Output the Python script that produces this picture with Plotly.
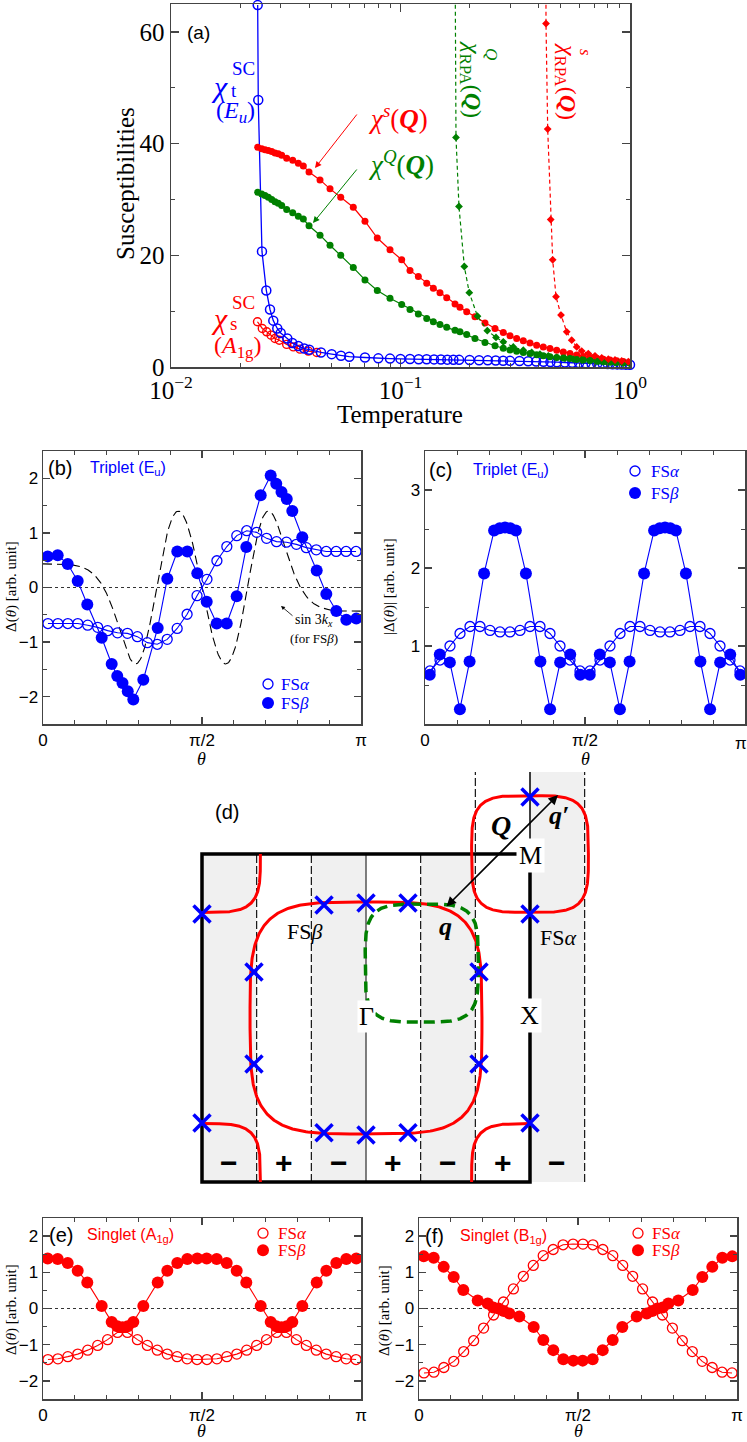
import numpy as np
import plotly.graph_objects as go

W, H = 747, 1442
SERIF = "Liberation Serif"
SANS = "Liberation Sans"
BLUE = "#0000ff"
RED = "#ff0000"
GREEN = "#008000"
FRAME = "#444444"


def PX(x):
    return x / W


def PY(y):
    return 1 - y / H


# ---------------- Panel (a) data ----------------
T_chi_t = [0.02386, 0.0240, 0.02491, 0.02602, 0.0270, 0.02791, 0.02905, 0.03006, 0.03212, 0.03378,
           0.03587, 0.03809, 0.04006, 0.04504, 0.05014, 0.05504, 0.05983, 0.07002, 0.08003, 0.09,
           0.10, 0.11, 0.12, 0.13, 0.14, 0.15, 0.16, 0.17, 0.18, 0.20,
           0.22, 0.24, 0.26, 0.28, 0.30, 0.33, 0.36, 0.39, 0.42, 0.45,
           0.48, 0.52, 0.56, 0.60, 0.64, 0.68, 0.72, 0.76, 0.80, 0.84,
           0.88, 0.92, 0.96, 1.0]
chi_t_sc = [64.8, 47.8, 20.7, 13.7, 10.3, 8.3, 6.9, 6.1, 5.1, 4.3,
            3.75, 3.3, 3.1, 2.6, 2.3, 2.0, 1.85, 1.7, 1.55, 1.5,
            1.45, 1.42, 1.4, 1.38, 1.36, 1.34, 1.32, 1.3, 1.28, 1.25,
            1.22, 1.19, 1.16, 1.13, 1.1, 1.06, 1.02, 0.98, 0.94, 0.9,
            0.86, 0.81, 0.76, 0.72, 0.68, 0.64, 0.6, 0.56, 0.53, 0.5,
            0.47, 0.44, 0.42, 0.4]

T_chi_s_sc = [0.02381, 0.02499, 0.02612, 0.02729, 0.02838, 0.02964, 0.03192, 0.03413, 0.03651, 0.03967, 0.04317]
chi_s_sc = [8.1, 6.9, 6.3, 5.7, 5.1, 4.8, 4.05, 3.6, 3.2, 2.85, 2.6]

T_chi_q = [0.02386, 0.02484, 0.02568, 0.02655, 0.02747, 0.02839, 0.02934, 0.03036, 0.03192, 0.03391,
           0.03587, 0.03772, 0.03994, 0.0446, 0.0493, 0.0549, 0.06228, 0.07002, 0.07923, 0.09,
           0.1012, 0.11, 0.1196, 0.1301, 0.139, 0.1486, 0.159, 0.1728, 0.1816, 0.1943,
           0.2111, 0.2334, 0.2581, 0.2805, 0.30, 0.3208, 0.3428, 0.3666, 0.3921, 0.419,
           0.4481, 0.4793, 0.5121, 0.5476, 0.5858, 0.6259, 0.6694, 0.716, 0.7651, 0.8183,
           0.8753, 0.9351, 1.0]
chi_spin_Q = [39.35, 39.1, 38.9, 38.75, 38.6, 38.3, 38.2, 37.9, 37.4, 37.0,
              36.5, 36.0, 34.9, 33.5, 31.9, 30.4, 28.6, 26.1, 23.1, 21.0,
              19.2, 17.3, 16.2, 15.0, 14.1, 13.3, 12.4, 11.3, 10.7, 9.9,
              9.0, 7.9, 6.9, 6.2, 5.6, 5.1, 4.7, 4.3, 3.9, 3.6,
              3.3, 3.0, 2.7, 2.4, 2.15, 1.9, 1.7, 1.55, 1.4, 1.25,
              1.1, 0.97, 0.85]
chi_quad_Q = [31.3, 31.0, 30.7, 30.4, 30.0, 29.6, 29.3, 28.9, 28.2, 27.6,
              27.0, 26.5, 25.3, 23.6, 21.8, 20.0, 17.8, 15.6, 13.7, 12.3,
              11.2, 10.3, 9.5, 8.7, 8.1, 7.6, 7.1, 6.6, 6.3, 5.8,
              5.1, 4.4, 3.8, 3.35, 3.05, 2.8, 2.6, 2.4, 2.2, 2.0,
              1.85, 1.7, 1.6, 1.5, 1.35, 1.25, 1.15, 1.05, 0.95, 0.87,
              0.8, 0.72, 0.65]

T_rpa_s = [0.4285, 0.4305, 0.4379, 0.4513, 0.4604, 0.4760, 0.5005, 0.5300, 0.5572, 0.5858,
           0.6160, 0.6581, 0.7039, 0.7529, 0.8043, 0.8602, 0.9200, 0.9831]
chi_rpa_s = [110, 61.5, 42.6, 26.4, 19.2, 12.6, 9.3, 6.3, 4.8, 3.6,
             2.85, 2.4, 2.0, 1.65, 1.4, 1.25, 1.07, 0.95]

T_rpa_q = [0.1712, 0.1745, 0.1798, 0.1897, 0.1994, 0.2165, 0.2389, 0.2607, 0.2805, 0.3101,
           0.3428, 0.3729, 0.4053, 0.4405, 0.4793, 0.5210, 0.5662, 0.6160, 0.6694, 0.7277,
           0.7914, 0.8602, 0.9351, 1.0]
chi_rpa_q = [110, 41.1, 28.75, 18.0, 13.3, 9.1, 6.5, 5.3, 4.5, 3.6,
             3.0, 2.6, 2.3, 2.0, 1.7, 1.55, 1.4, 1.25, 1.13, 1.0,
             0.9, 0.77, 0.7, 0.65]

# ---------------- Panels (b),(c),(e),(f) data (theta in units of pi) ----------------
theta_alpha = [0.0156, 0.0469, 0.0781, 0.1094, 0.1406, 0.1719, 0.2031, 0.2344, 0.2656, 0.2969,
               0.3281, 0.3594, 0.3906, 0.4219, 0.4531, 0.4844, 0.5156, 0.5469, 0.5781, 0.6094,
               0.6406, 0.6719, 0.7031, 0.7344, 0.7656, 0.7969, 0.8281, 0.8594, 0.8906, 0.9219,
               0.9531, 0.9844]
theta_beta = [0.0148, 0.0462, 0.0777, 0.1091, 0.1393, 0.1846, 0.2160, 0.2335, 0.2500, 0.2665,
              0.2840, 0.3154, 0.3607, 0.3909, 0.4223, 0.4538, 0.4852, 0.5148, 0.5462, 0.5777,
              0.6091, 0.6393, 0.6846, 0.7160, 0.7335, 0.7500, 0.7665, 0.7840, 0.8154, 0.8607,
              0.8909, 0.9223, 0.9538, 0.9852]

b_alpha = [-0.66, -0.66, -0.66, -0.66, -0.69, -0.73, -0.79, -0.83, -0.84, -0.90,
           -1.01, -1.04, -0.95, -0.75, -0.49, -0.15, 0.15, 0.49, 0.75, 0.95,
           1.04, 1.01, 0.90, 0.84, 0.83, 0.79, 0.73, 0.69, 0.66, 0.66,
           0.66, 0.66]
b_beta = [0.57, 0.59, 0.43, 0.12, -0.31, -0.92, -1.40, -1.62, -1.75, -1.90,
          -2.05, -1.69, -0.74, 0.16, 0.66, 0.66, 0.26, -0.26, -0.66, -0.66,
          -0.16, 0.74, 1.69, 2.05, 1.90, 1.75, 1.62, 1.40, 0.92, 0.31,
          -0.12, -0.43, -0.59, -0.57]

c_alpha = [0.68, 0.82, 1.00, 1.16, 1.25, 1.25, 1.20, 1.18, 1.18, 1.20,
           1.25, 1.25, 1.16, 1.00, 0.82, 0.68, 0.68, 0.82, 1.00, 1.16,
           1.25, 1.25, 1.20, 1.18, 1.18, 1.20, 1.25, 1.25, 1.16, 1.00,
           0.82, 0.68]
c_beta = [0.63, 0.89, 0.79, 0.19, 0.80, 1.93, 2.48, 2.51, 2.52, 2.51,
          2.48, 1.93, 0.80, 0.19, 0.79, 0.89, 0.63, 0.63, 0.89, 0.79,
          0.19, 0.80, 1.93, 2.48, 2.51, 2.52, 2.51, 2.48, 1.93, 0.80,
          0.19, 0.79, 0.89, 0.63]

e_alpha = [-1.41, -1.39, -1.33, -1.26, -1.15, -1.02, -0.86, -0.66, -0.66, -0.86,
           -1.02, -1.15, -1.26, -1.33, -1.39, -1.41, -1.41, -1.39, -1.33, -1.26,
           -1.15, -1.02, -0.86, -0.66, -0.66, -0.86, -1.02, -1.15, -1.26, -1.33,
           -1.39, -1.41]
e_beta = [1.38, 1.37, 1.26, 1.04, 0.72, 0.07, -0.37, -0.49, -0.52, -0.49,
          -0.37, 0.07, 0.72, 1.04, 1.26, 1.37, 1.38, 1.38, 1.37, 1.26,
          1.04, 0.72, 0.07, -0.37, -0.49, -0.52, -0.49, -0.37, 0.07, 0.72,
          1.04, 1.26, 1.37, 1.38]

f_alpha = [-1.78, -1.76, -1.63, -1.46, -1.19, -0.89, -0.54, -0.18, 0.18, 0.54,
           0.89, 1.19, 1.46, 1.63, 1.76, 1.78, 1.78, 1.76, 1.63, 1.46,
           1.19, 0.89, 0.54, 0.18, -0.18, -0.54, -0.89, -1.19, -1.46, -1.63,
           -1.76, -1.78]
f_beta = [1.44, 1.40, 1.15, 0.87, 0.51, 0.22, 0.14, 0.03, 0.0, -0.07,
          -0.14, -0.22, -0.51, -0.87, -1.15, -1.40, -1.44, -1.44, -1.40, -1.15,
          -0.87, -0.51, -0.22, -0.14, -0.07, 0.0, 0.03, 0.14, 0.22, 0.51,
          0.87, 1.15, 1.40, 1.44]

# sin 3kx reference curve for FS beta (amplitude, FS size in units of pi, shape exponent)
SIN_AMP = 1.4
FSB_KF = 0.70
FSB_N = 4.0

# ---------------- Panel (d) data (k in units of pi) ----------------
FSA_R = 0.356
FSA_N = 4.0
FSB_R = 0.707
GREEN_C = (0.34, 0.335)
GREEN_R = (0.345, 0.36)
node_kx = [-1.0, -0.256, 0.0, 0.256, 1.0, 1.0, -0.683, 0.689, -0.683, 0.689, -1.0, -0.256, 0.0, 0.256, 1.0]
node_ky = [0.634, 0.689, 0.701, 0.701, 1.348, 0.634, 0.28, 0.28, -0.28, -0.28, -0.64, -0.70, -0.713, -0.70, -0.64]
sign_kx = [-5 / 6, -1 / 2, -1 / 6, 1 / 6, 1 / 2, 5 / 6, 7 / 6]
sign_txt = ["−", "+", "−", "+", "−", "+", "−"]


def superellipse(cx, cy, rx, ry, n, t0, t1, num=400):
    t = np.linspace(t0, t1, num)
    c, s = np.cos(t), np.sin(t)
    x = cx + rx * np.sign(c) * np.abs(c) ** (2 / n)
    y = cy + ry * np.sign(s) * np.abs(s) ** (2 / n)
    return x, y


fig = go.Figure()

# ---- (a) ----
fig.add_trace(go.Scatter(x=T_chi_s_sc, y=chi_s_sc, mode="lines+markers", xaxis="x", yaxis="y",
                         line=dict(color=RED, width=1.2),
                         marker=dict(symbol="circle-open", size=8, color=RED, line=dict(width=1.4))))
fig.add_trace(go.Scatter(x=T_chi_t, y=chi_t_sc, mode="lines+markers", xaxis="x", yaxis="y", cliponaxis=False,
                         line=dict(color=BLUE, width=1.3),
                         marker=dict(symbol="circle-open", size=9, color=BLUE, line=dict(width=1.5))))
fig.add_trace(go.Scatter(x=T_chi_q, y=chi_spin_Q, mode="lines+markers", xaxis="x", yaxis="y",
                         line=dict(color=RED, width=1.2), marker=dict(symbol="circle", size=7, color=RED)))
fig.add_trace(go.Scatter(x=T_chi_q, y=chi_quad_Q, mode="lines+markers", xaxis="x", yaxis="y",
                         line=dict(color=GREEN, width=1.2), marker=dict(symbol="circle", size=7, color=GREEN)))
fig.add_trace(go.Scatter(x=T_rpa_q, y=chi_rpa_q, mode="lines+markers", xaxis="x", yaxis="y",
                         line=dict(color=GREEN, width=1.2, dash="4px,3px"),
                         marker=dict(symbol="diamond", size=6, color=GREEN)))
fig.add_trace(go.Scatter(x=T_rpa_s, y=chi_rpa_s, mode="lines+markers", xaxis="x", yaxis="y",
                         line=dict(color=RED, width=1.2, dash="4px,3px"),
                         marker=dict(symbol="diamond", size=6, color=RED)))

# ---- (b) ----
th = np.linspace(0, np.pi, 400)
rk = FSB_KF / (np.abs(np.cos(th)) ** FSB_N + np.abs(np.sin(th)) ** FSB_N) ** (1 / FSB_N)
sin_curve = SIN_AMP * np.sin(3 * np.pi * rk * np.cos(th))
fig.add_trace(go.Scatter(x=th / np.pi, y=sin_curve, mode="lines", xaxis="x2", yaxis="y2",
                         line=dict(color="black", width=1.1, dash="9px,5px")))


def panel_traces(xa, ya, alpha, beta, color):
    fig.add_trace(go.Scatter(x=theta_alpha, y=alpha, mode="lines+markers", xaxis=xa, yaxis=ya,
                             line=dict(color=color, width=1.1),
                             marker=dict(symbol="circle-open", size=10, color=color, line=dict(width=1.3))))
    fig.add_trace(go.Scatter(x=theta_beta, y=beta, mode="lines+markers", xaxis=xa, yaxis=ya,
                             line=dict(color=color, width=1.1),
                             marker=dict(symbol="circle", size=12, color=color)))


panel_traces("x2", "y2", b_alpha, b_beta, BLUE)
panel_traces("x3", "y3", c_alpha, c_beta, BLUE)
panel_traces("x5", "y5", e_alpha, e_beta, RED)
panel_traces("x6", "y6", f_alpha, f_beta, RED)


# legend markers (pixel positions converted to each panel's data coords)
def legend_marks(xa, ya, xpx, ypx_open, ypx_fill, x0px, wpx, yzero_px, ppu, color):
    xv = (xpx - x0px) / wpx
    fig.add_trace(go.Scatter(x=[xv], y=[(yzero_px - ypx_open) / ppu], mode="markers", xaxis=xa, yaxis=ya,
                             marker=dict(symbol="circle-open", size=10, color=color, line=dict(width=1.3))))
    fig.add_trace(go.Scatter(x=[xv], y=[(yzero_px - ypx_fill) / ppu], mode="markers", xaxis=xa, yaxis=ya,
                             marker=dict(symbol="circle", size=12, color=color)))


legend_marks("x2", "y2", 268, 684, 703, 43, 318, 587.5, 54.6, BLUE)
legend_marks("x3", "y3", 635, 471, 493, 425, 320, 724, 78.0, BLUE)
legend_marks("x5", "y5", 263, 1233, 1250, 43, 318, 1308.3, 36.2, RED)
legend_marks("x6", "y6", 638, 1233, 1250, 419, 318, 1308.3, 36.2, RED)

# ---- (d) Fermi surfaces ----
xa_, ya_ = superellipse(1, 1, FSA_R, FSA_R, FSA_N, 0, 2 * np.pi)
fig.add_trace(go.Scatter(x=xa_, y=ya_, mode="lines", xaxis="x4", yaxis="y4", line=dict(color=RED, width=3)))
for (cx, cy, t0, t1) in [(-1, 1, -np.pi / 2, 0), (-1, -1, 0, np.pi / 2), (1, -1, np.pi / 2, np.pi)]:
    xq, yq = superellipse(cx, cy, FSA_R, FSA_R, FSA_N, t0, t1)
    fig.add_trace(go.Scatter(x=xq, y=yq, mode="lines", xaxis="x4", yaxis="y4", line=dict(color=RED, width=3)))
xb_, yb_ = superellipse(0, 0, FSB_R, FSB_R, 4.0, 0, 2 * np.pi)
fig.add_trace(go.Scatter(x=xb_, y=yb_, mode="lines", xaxis="x4", yaxis="y4", line=dict(color=RED, width=3)))
xg_, yg_ = superellipse(GREEN_C[0], GREEN_C[1], GREEN_R[0], GREEN_R[1], 4.0, 0, 2 * np.pi)
fig.add_trace(go.Scatter(x=xg_, y=yg_, mode="lines", xaxis="x4", yaxis="y4",
                         line=dict(color=GREEN, width=3.5, dash="11px,6px")))
fig.add_trace(go.Scatter(x=node_kx, y=node_ky, mode="markers", xaxis="x4", yaxis="y4", cliponaxis=False,
                         marker=dict(symbol="x-thin", size=17, line=dict(width=3.5, color=BLUE))))

# ---------------- shapes ----------------
shapes = []
GREY = "#f0f0f0"
for (x0, x1, y1) in [(-1, -2 / 3, 1), (-1 / 3, 0, 1), (1 / 3, 2 / 3, 1), (1, 4 / 3, 1.5)]:
    shapes.append(dict(type="rect", xref="x4", yref="y4", x0=x0, x1=x1, y0=-1, y1=y1,
                       fillcolor=GREY, line=dict(width=0), layer="below"))
for (xv, y1) in [(-2 / 3, 1), (-1 / 3, 1), (1 / 3, 1), (2 / 3, 1.5), (4 / 3, 1.5)]:
    shapes.append(dict(type="line", xref="x4", yref="y4", x0=xv, x1=xv, y0=-1, y1=y1,
                       line=dict(color="black", width=1.1, dash="8px,3px"), layer="below"))
shapes.append(dict(type="line", xref="x4", yref="y4", x0=0, x1=0, y0=-1, y1=1,
                   line=dict(color="#555555", width=1.5), layer="below"))
shapes.append(dict(type="line", xref="x4", yref="y4", x0=1, x1=1, y0=1, y1=1.5,
                   line=dict(color="black", width=1.5), layer="below"))
shapes.append(dict(type="rect", xref="x4", yref="y4", x0=-1, x1=1, y0=-1, y1=1,
                   line=dict(color="black", width=3.5), fillcolor="rgba(0,0,0,0)", layer="below"))
for xa in ["x2", "x5", "x6"]:
    ya = xa.replace("x", "y")
    shapes.append(dict(type="line", xref=xa, yref=ya, x0=0, x1=1, y0=0, y1=0,
                       line=dict(color="#333333", width=1.2, dash="dot"), layer="below"))

# ---------------- annotations ----------------
anns = []


def ann(x, y, text, size, color="black", family=SERIF, xanchor="center", **kw):
    anns.append(dict(x=PX(x), y=PY(y), xref="paper", yref="paper", text=text, showarrow=False,
                     font=dict(size=size, color=color, family=family), xanchor=xanchor, yanchor="middle", **kw))


def arrow(xh, yh, xt, yt, color="black", width=1.0, head=2, size=1.2, side="end"):
    anns.append(dict(x=PX(xh), y=PY(yh), xref="paper", yref="paper", text="", showarrow=True,
                     ax=xt - xh, ay=yt - yh, axref="pixel", ayref="pixel", arrowcolor=color,
                     arrowwidth=width, arrowhead=head, arrowsize=size, arrowside=side, startarrowhead=head,
                     startarrowsize=size))


# (a)
ann(198, 33, "(a)", 19, family=SANS)
ann(219, 87, "<i>χ</i>", 30, BLUE)
ann(243, 69, "SC", 19, BLUE)
ann(234, 91, "t", 19, BLUE)
ann(235, 112, "(<i>E<sub>u</sub></i>)", 24, BLUE)
ann(398, 117, "<i>χ</i><sup><i>s</i></sup>(<b><i>Q</i></b>)", 27, RED)
ann(401, 163, "<i>χ</i><sup><i>Q</i></sup>(<b><i>Q</i></b>)", 27, GREEN)
arrow(315, 168, 358, 113, RED, 1.0, 2, 1.3)
arrow(313, 223, 358, 168, GREEN, 1.0, 2, 1.3)
ann(471, 80, "<i>χ</i><sub>RPA</sub>(<b><i>Q</i></b>)", 24, GREEN, textangle=90)
ann(491, 54, "<i>Q</i>", 17, GREEN, textangle=90)
ann(566, 81, "<i>χ</i><sub>RPA</sub>(<b><i>Q</i></b>)", 24, RED, textangle=90)
ann(585, 52, "<i>s</i>", 17, RED, textangle=90)
ann(219, 318, "<i>χ</i>", 30, RED)
ann(243, 302, "SC", 19, RED)
ann(233, 323, "s", 19, RED)
ann(237, 347, "(<i>A</i><sub>1g</sub>)", 24, RED)
ann(126, 183, "Susceptibilities", 25, textangle=-90)
ann(400, 414, "Temperature", 25)

# (b)
ann(60, 468, "(b)", 20, family=SANS)
ann(128, 468, "Triplet (E<sub>u</sub>)", 16, BLUE, family=SANS)
ann(11, 587, "Δ(<i>θ</i>) [arb. unit]", 15, textangle=-90)
ann(202, 759, "<i>θ</i>", 18)
ann(279, 684, "FS<i>α</i>", 17, BLUE, xanchor="left")
ann(279, 703, "FS<i>β</i>", 17, BLUE, xanchor="left")
ann(314, 620, "sin 3<i>k<sub>x</sub></i>", 14)
ann(314, 638, "(for FS<i>β</i>)", 13)
arrow(281, 606, 294, 617, "black", 0.8, 2, 1.0)

# (c)
ann(440, 470, "(c)", 20, family=SANS)
ann(511, 470, "Triplet (E<sub>u</sub>)", 16, BLUE, family=SANS)
ann(389, 587, "|Δ(<i>θ</i>)| [arb. unit]", 15, textangle=-90)
ann(585, 759, "<i>θ</i>", 18)
ann(649, 471, "FS<i>α</i>", 17, BLUE, xanchor="left")
ann(649, 493, "FS<i>β</i>", 17, BLUE, xanchor="left")
ann(741, 743, "π", 17, family=SANS)  # right-end tick label of (c), kept inside the page

# (d)
ann(227, 812, "(d)", 20, family=SANS)
for kx, s in zip(sign_kx, sign_txt):
    ann(366 + 164 * kx, 1162, "<b>%s</b>" % s, 30, family=SANS)
anns.append(dict(x=PX(558), y=PY(795), xref="paper", yref="paper", text="", showarrow=True,
                 ax=445 - 558, ay=908 - 795, axref="pixel", ayref="pixel", arrowcolor="black",
                 arrowwidth=1.6, arrowhead=2, arrowsize=1.2, arrowside="end+start", startarrowhead=2,
                 startarrowsize=1.2))
ann(501, 825, "<b><i>Q</i></b>", 28)
ann(559, 815, "<b><i>q′</i></b>", 26)
ann(445, 926, "<b><i>q</i></b>", 26)
ann(530, 856, "M", 26, bgcolor="white", borderpad=2)
ann(529, 1015, "X", 26, bgcolor="white", borderpad=2)
ann(366, 1016, "Γ", 26, bgcolor="white", borderpad=1)
ann(558, 937, "FS<i>α</i>", 22)
ann(304, 931, "FS<i>β</i>", 22)

# (e)
ann(61, 1235, "(e)", 20, family=SANS)
ann(130, 1235, "Singlet (A<sub>1g</sub>)", 16, RED, family=SANS)
ann(11, 1310, "Δ(<i>θ</i>) [arb. unit]", 15, textangle=-90)
ann(202, 1431, "<i>θ</i>", 18)
ann(276, 1233, "FS<i>α</i>", 17, RED, xanchor="left")
ann(276, 1250, "FS<i>β</i>", 17, RED, xanchor="left")

# (f)
ann(434, 1236, "(f)", 20, family=SANS)
ann(503, 1236, "Singlet (B<sub>1g</sub>)", 16, RED, family=SANS)
ann(384, 1310, "Δ(<i>θ</i>) [arb. unit]", 15, textangle=-90)
ann(578, 1431, "<i>θ</i>", 18)
ann(650, 1233, "FS<i>α</i>", 17, RED, xanchor="left")
ann(650, 1250, "FS<i>β</i>", 17, RED, xanchor="left")


# ---------------- axes ----------------
def frame_axis(domain, rng, tickvals, anchor, font, ticktext=None, minor_vals=None, ticklen=7, **kw):
    d = dict(domain=domain, range=rng, anchor=anchor, showline=True, linecolor=FRAME, linewidth=1.5,
             mirror="allticks", ticks="inside", ticklen=ticklen, tickwidth=1.2, tickcolor=FRAME,
             tickmode="array", tickvals=tickvals, showgrid=False, zeroline=False, tickfont=font,
             automargin=False)
    if ticktext is not None:
        d["ticktext"] = ticktext
    if minor_vals is not None:
        d["minor"] = dict(tickmode="array", tickvals=minor_vals, ticks="inside", ticklen=ticklen * 0.55,
                          tickwidth=1.0, tickcolor=FRAME, showgrid=False)
    d.update(kw)
    return d


fa = dict(family=SERIF, size=25, color="black")
fs = dict(family=SANS, size=17, color="black")
minor_log = [m * 10 ** e for e in (-2, -1) for m in range(2, 10)]
th_ticks = [0, 0.5, 1]
th_text = ["0", "π/2", "π"]
th_minor = [0.1, 0.2, 0.3, 0.4, 0.6, 0.7, 0.8, 0.9]
d_minor = [-2.5, -1.5, -0.5, 0.5, 1.5, 2.5]

layout_axes = dict(
    xaxis=frame_axis([PX(171), PX(630)], [-2, 0], [0.01, 0.1, 1], "y", fa,
                     ticktext=["10<sup>−2</sup>", "10<sup>−1</sup>", "10<sup>0</sup>"],
                     minor_vals=minor_log, ticklen=8, type="log"),
    yaxis=frame_axis([PY(367), PY(4)], [0, 65], [0, 20, 40, 60], "x", fa, minor_vals=[10, 30, 50], ticklen=8),
    xaxis2=frame_axis([PX(43), PX(361)], [0, 1], th_ticks, "y2", fs, ticktext=th_text, minor_vals=th_minor),
    yaxis2=frame_axis([PY(724), PY(451)], [-2.5, 2.5], [-2, -1, 0, 1, 2], "x2", fs, minor_vals=d_minor),
    xaxis3=frame_axis([PX(425), PX(745)], [0, 1], th_ticks, "y3", fs, ticktext=["0", "π/2", ""],
                      minor_vals=th_minor),
    yaxis3=frame_axis([PY(724), PY(451)], [0, 3.5], [0, 1, 2, 3], "x3", fs, ticktext=["", "1", "2", "3"],
                      minor_vals=[0.5, 1.5, 2.5]),
    xaxis4=dict(domain=[PX(180), PX(600)], range=[(180 - 366) / 164, (600 - 366) / 164], anchor="y4",
                visible=False, automargin=False),
    yaxis4=dict(domain=[PY(1200), PY(760)], range=[(1018 - 1200) / 164, (1018 - 760) / 164], anchor="x4",
                visible=False, automargin=False),
    xaxis5=frame_axis([PX(43), PX(361)], [0, 1], th_ticks, "y5", fs, ticktext=th_text, minor_vals=th_minor),
    yaxis5=frame_axis([PY(1399), PY(1218)], [-2.5, 2.5], [-2, -1, 0, 1, 2], "x5", fs, minor_vals=d_minor),
    xaxis6=frame_axis([PX(419), PX(737)], [0, 1], th_ticks, "y6", fs, ticktext=th_text, minor_vals=th_minor),
    yaxis6=frame_axis([PY(1399), PY(1218)], [-2.5, 2.5], [-2, -1, 0, 1, 2], "x6", fs, minor_vals=d_minor),
)

fig.update_layout(width=W, height=H, margin=dict(l=0, r=0, t=0, b=0, autoexpand=False), paper_bgcolor="white",
                  plot_bgcolor="rgba(0,0,0,0)", showlegend=False, shapes=shapes, annotations=anns,
                  hovermode=False, **layout_axes)
# remove the browser's default 8px page margin so the figure sits at the window origin
fig.write_html("out.html", config={"displayModeBar": False, "staticPlot": True},
               post_script="document.body.style.margin='0px';document.body.style.overflow='hidden';")
